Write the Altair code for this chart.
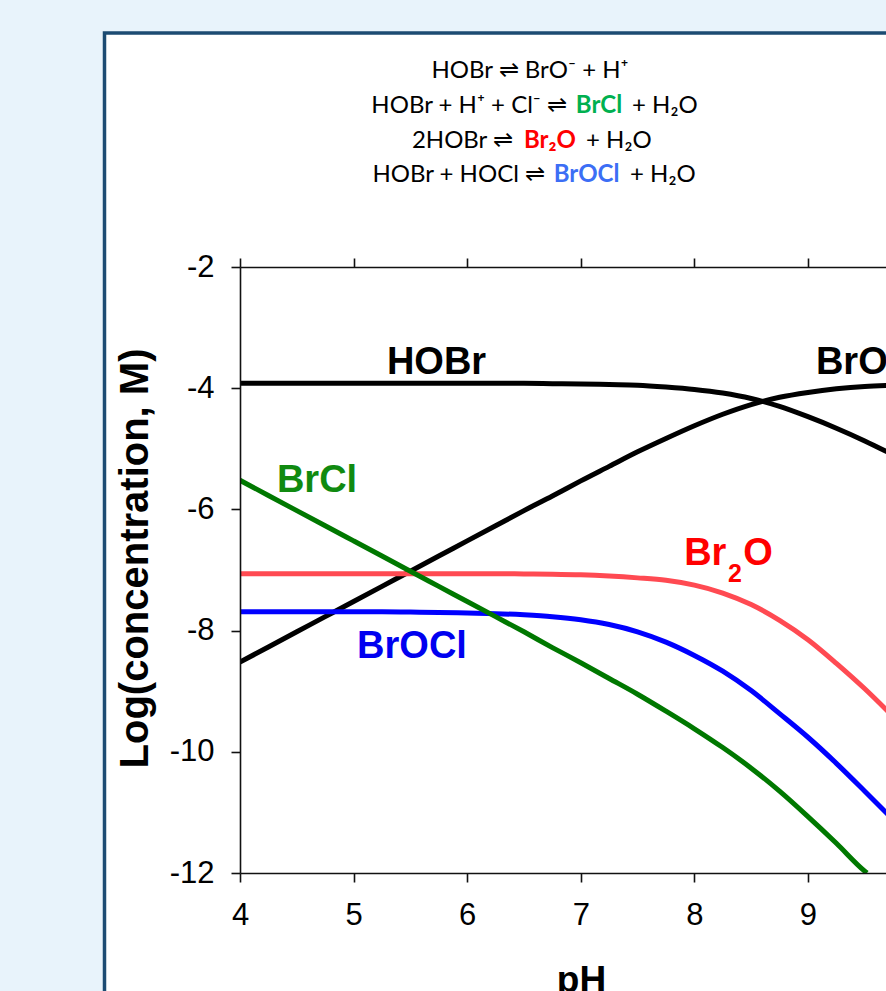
import altair as alt
import pandas as pd

# ---------------- data ----------------
ph = [4.0, 4.25, 4.5, 4.75, 5.0, 5.25, 5.5, 5.75, 6.0, 6.25, 6.5, 6.75,
      7.0, 7.25, 7.5, 7.75, 8.0, 8.25, 8.5, 8.75, 9.0, 9.25, 9.5, 9.75]

hobr = [-3.92, -3.92, -3.92, -3.92, -3.92, -3.92, -3.92, -3.92, -3.92, -3.92, -3.92, -3.925,
        -3.93, -3.94, -3.95, -3.98, -4.02, -4.08, -4.17, -4.30, -4.47, -4.66, -4.87, -5.10]

bro = [-8.52, -8.27, -8.02, -7.77, -7.52, -7.27, -7.02, -6.77, -6.52, -6.27, -6.02, -5.78,
       -5.53, -5.29, -5.05, -4.83, -4.62, -4.43, -4.27, -4.15, -4.07, -4.01, -3.97, -3.95]

br2o = [-7.06, -7.06, -7.06, -7.06, -7.06, -7.06, -7.06, -7.06, -7.06, -7.06, -7.065, -7.07,
        -7.08, -7.10, -7.13, -7.17, -7.25, -7.38, -7.57, -7.83, -8.15, -8.54, -8.96, -9.42]

brocl = [-7.69, -7.69, -7.69, -7.69, -7.69, -7.69, -7.695, -7.70, -7.71, -7.72, -7.74, -7.77,
         -7.82, -7.90, -8.02, -8.19, -8.41, -8.67, -8.99, -9.37, -9.76, -10.19, -10.65, -11.12]

brcl_ph = [4.0, 4.25, 4.5, 4.75, 5.0, 5.25, 5.5, 5.75, 6.0, 6.25, 6.5, 6.75,
           7.0, 7.25, 7.5, 7.75, 8.0, 8.25, 8.5, 8.75, 9.0, 9.25, 9.5, 9.52]
brcl = [-5.52, -5.77, -6.02, -6.27, -6.52, -6.77, -7.02, -7.27, -7.52, -7.77, -8.02, -8.28,
        -8.53, -8.79, -9.05, -9.33, -9.62, -9.93, -10.27, -10.65, -11.07, -11.51, -11.97, -12.0]

series_names = ["Br2O", "BrOCl", "BrCl", "BrO-", "HOBr"]
series_colors = ["#ff4a52", "#0000ff", "#007800", "#000000", "#000000"]

x_ticks = [4, 5, 6, 7, 8, 9]
y_ticks = [-2, -4, -6, -8, -10, -12]
x_domain = [4, 9.687]
y_domain = [-12, -2]

# in-plot labels
lab_text = ["HOBr", "BrO⁻", "BrCl", "Br", "2", "O", "BrOCl"]
lab_x = [5.73, 9.07, 4.678, 7.91, 8.295, 8.43, 5.514]
lab_y = [-3.77, -3.77, -5.713, -6.917, -7.198, -6.917, -8.452]
lab_color = ["#000000", "#000000", "#108a10", "#ff0000", "#ff0000", "#ff0000", "#0000f0"]
lab_size = [38, 38, 38, 38, 25, 38, 38]
lab_align = ["center", "left", "center", "left", "left", "left", "center"]

# equation header (pixel anchors relative to plot origin)
eq_text = ["HOBr ⇌ BrO⁻ + H⁺",
           "HOBr + H⁺ + Cl⁻ ⇌", "BrCl", "+ H₂O",
           "2HOBr ⇌", "Br₂O", "+ H₂O",
           "HOBr + HOCl ⇌", "BrOCl", "+ H₂O"]
eq_x = [290, 327, 359, 392, 273, 310, 346, 305, 346.5, 390]
eq_y = [-189, -154, -154, -154, -119, -119, -119, -85, -85, -85]
eq_align = ["center", "right", "center", "left", "right", "center", "left", "right", "center", "left"]
eq_color = ["#000000", "#000000", "#00b050", "#000000", "#000000", "#ff0000", "#000000",
            "#000000", "#3c6ef5", "#000000"]
eq_weight = ["normal", "normal", "bold", "normal", "normal", "bold", "normal", "normal", "bold", "normal"]

# ---------------- build tables ----------------
rows = []
for name, xs, ys in [("HOBr", ph, hobr), ("BrO-", ph, bro), ("Br2O", ph, br2o),
                     ("BrOCl", ph, brocl), ("BrCl", brcl_ph, brcl)]:
    for a, b in zip(xs, ys):
        rows.append({"series": name, "pH": a, "logc": b})
df = pd.DataFrame(rows)

xscale = alt.Scale(domain=x_domain, nice=False, zero=False)
yscale = alt.Scale(domain=y_domain, nice=False, zero=False)

FONT = "Liberation Sans"

axis_common = dict(
    grid=False, zindex=1, domainColor="#111111", domainWidth=1.6,
    tickColor="#111111", tickWidth=1.6, tickSize=9,
    labelFont=FONT, labelFontSize=31, labelColor="#000000", labelFlush=False,
    labelOverlap=False, labelExpr="'' + datum.value",
)

x_axis = alt.Axis(values=x_ticks, labelPadding=18, title="pH",
                  titleFont=FONT, titleFontSize=37, titleFontWeight="bold",
                  titleColor="#000000", titleX=341, titleY=118,
                  titleBaseline="alphabetic", titleAlign="center", **axis_common)
x_top_axis = alt.Axis(values=x_ticks, orient="top", labels=False, title=None,
                      grid=False, zindex=1, domainColor="#111111", domainWidth=1.6,
                      tickColor="#111111", tickWidth=1.6, tickSize=9)
y_axis = alt.Axis(values=y_ticks, labelPadding=17, title="Log(concentration, M)",
                  titleFont=FONT, titleFontSize=40, titleFontWeight="bold",
                  titleColor="#000000", titleAngle=270, titleX=-93, titleY=291,
                  titleBaseline="alphabetic", titleAlign="center", **axis_common)

# white framed panel
panel = alt.Chart(pd.DataFrame({"k": [0]})).mark_rect(
    fill="#ffffff", stroke="#1c4b72", strokeWidth=3.5
).encode(x=alt.value(-135.5), y=alt.value(-234), x2=alt.value(900), y2=alt.value(900))

eq_layers = []
for t, xx, yy, al, col, wt in zip(eq_text, eq_x, eq_y, eq_align, eq_color, eq_weight):
    eq_layers.append(
        alt.Chart(pd.DataFrame({"t": [t]})).mark_text(
            font="Lato", fontSize=24, align=al, baseline="alphabetic",
            color=col, fontWeight=wt
        ).encode(text="t:N", x=alt.value(xx), y=alt.value(yy))
    )

lines = alt.Chart(df).mark_line(strokeWidth=5, clip=True, interpolate="monotone").encode(
    x=alt.X("pH:Q", scale=xscale, axis=x_axis),
    y=alt.Y("logc:Q", scale=yscale, axis=y_axis),
    color=alt.Color("series:N", scale=alt.Scale(domain=series_names, range=series_colors), legend=None),
    detail="series:N",
    order=alt.Order("pH:Q"),
)

top_axis = alt.Chart(df).mark_point(opacity=0).encode(
    x=alt.X("pH:Q", scale=xscale, axis=x_top_axis),
    y=alt.Y("logc:Q", scale=yscale, axis=None),
)

label_layers = []
for t, xx, yy, col, fs, al in zip(lab_text, lab_x, lab_y, lab_color, lab_size, lab_align):
    label_layers.append(
        alt.Chart(pd.DataFrame({"t": [t], "x": [xx], "y": [yy]})).mark_text(
            font=FONT, fontWeight="bold", fontSize=fs, align=al,
            baseline="alphabetic", color=col
        ).encode(
            text="t:N",
            x=alt.X("x:Q", scale=xscale, axis=None),
            y=alt.Y("y:Q", scale=yscale, axis=None),
        )
    )

chart = alt.layer(panel, *eq_layers, lines, top_axis, *label_layers).resolve_axis(
    x="independent", y="independent"
).properties(
    width=646, height=606,
    padding={"left": 240, "top": 267, "right": 0, "bottom": 118},
    autosize=alt.AutoSizeParams(type="none"),
    background="#e8f3fb",
).configure_view(stroke=None)

chart.save("out.html", embed_options={"renderer": "svg", "actions": False})
